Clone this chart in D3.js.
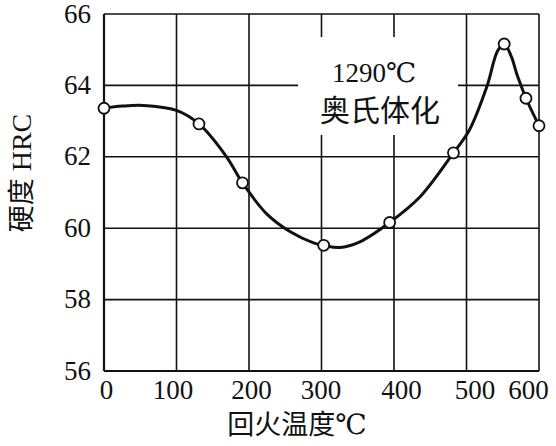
<!DOCTYPE html>
<html><head><meta charset="utf-8">
<script src="https://cdn.jsdelivr.net/npm/d3@7"></script>
<style>body{margin:0;background:#fff}svg{display:block}</style>
</head><body>
<svg id="c" width="556" height="446"></svg>
<script>
// Measured points (tempering temperature, hardness)
const tempPts = [0, 131, 191, 303, 394, 482, 552, 582, 600];
const hrcPts  = [63.36, 62.92, 61.27, 59.52, 60.16, 62.11, 65.16, 63.64, 62.87];
// Traced smooth curve through the points
const curveTemp = [0, 25, 54, 100, 131, 169, 191, 224, 257, 289, 303, 325, 353, 394, 436, 482, 504, 528, 543, 552, 562, 569, 574, 582, 600];
const curveHRC  = [63.36, 63.42, 63.44, 63.3, 62.92, 62.0, 61.27, 60.41, 59.9, 59.59, 59.52, 59.46, 59.62, 60.16, 60.88, 62.11, 62.75, 63.96, 64.97, 65.16, 64.8, 64.34, 64.06, 63.64, 62.87];
const xTicks = [0, 100, 200, 300, 400, 500, 600];
const yTicks = [56, 58, 60, 62, 64, 66];
const xTitle = ["回火温度", "℃"];
const yTitle = ["硬度", " HRC"];
const noteLines = ["1290℃", "奥氏体化"];

const svg = d3.select("#c");
const L = 104, R = 539, T = 14, B = 371;
const x = d3.scaleLinear().domain([0, 600]).range([L, R]);
const y = d3.scaleLinear().domain([56, 66]).range([B, T]);
const serif = "'Liberation Serif','DejaVu Serif','Times New Roman',serif";
const cjk = "'Noto Sans CJK SC','Liberation Serif',serif";

// grid
const g = svg.append("g");
g.selectAll("line.v").data(xTicks).join("line")
  .attr("x1", d => x(d)).attr("x2", d => x(d)).attr("y1", T).attr("y2", B)
  .attr("stroke", "#111").attr("stroke-width", 1.6);
g.selectAll("line.h").data(yTicks).join("line")
  .attr("x1", L).attr("x2", R).attr("y1", d => y(d)).attr("y2", d => y(d))
  .attr("stroke", "#111").attr("stroke-width", 1.6);
g.append("line").attr("x1", L).attr("x2", L).attr("y1", T).attr("y2", B).attr("stroke", "#111").attr("stroke-width", 2.2);
g.append("line").attr("x1", L).attr("x2", R).attr("y1", B).attr("y2", B).attr("stroke", "#111").attr("stroke-width", 2.2);

// annotation background (hides grid)
svg.append("rect").attr("x", 298).attr("y", 37).attr("width", 160).attr("height", 98).attr("fill", "#fff");
svg.append("text").attr("x", 374).attr("y", 82).attr("text-anchor", "middle")
  .attr("font-family", serif).attr("font-size", 27).attr("fill", "#111").text(noteLines[0]);
svg.append("text").attr("x", 380).attr("y", 121).attr("text-anchor", "middle")
  .attr("font-family", cjk).attr("font-size", 30).attr("fill", "#111").text(noteLines[1]);

// curve
const line = d3.line().x(d => x(d[0])).y(d => y(d[1])).curve(d3.curveCatmullRom.alpha(0.5));
svg.append("path").datum(d3.zip(curveTemp, curveHRC)).attr("d", line)
  .attr("fill", "none").attr("stroke", "#111").attr("stroke-width", 3);

// markers
svg.selectAll("circle").data(d3.zip(tempPts, hrcPts)).join("circle")
  .attr("cx", d => x(d[0])).attr("cy", d => y(d[1])).attr("r", 5.5)
  .attr("fill", "#fff").attr("stroke", "#111").attr("stroke-width", 1.8);

// axes tick labels
const xAxis = svg.append("g").attr("transform", `translate(0,${B})`)
  .call(d3.axisBottom(x).tickValues(xTicks).tickSize(0).tickPadding(9));
xAxis.select(".domain").remove();
const xdx = {0: 2, 100: -4, 200: 2, 300: -1, 400: 7, 500: 8, 600: -11};
xAxis.selectAll("text").attr("font-family", serif).attr("font-size", 27).attr("fill", "#111")
  .attr("dx", d => xdx[d]);
const yAxis = svg.append("g").attr("transform", `translate(${L},0)`)
  .call(d3.axisLeft(y).tickValues(yTicks).tickSize(0).tickPadding(13));
yAxis.select(".domain").remove();
yAxis.selectAll("text").attr("font-family", serif).attr("font-size", 27).attr("fill", "#111").attr("dy", "0.3em");

// titles
const xt = svg.append("text").attr("x", 297).attr("y", 434).attr("text-anchor", "middle").attr("fill", "#111");
xt.append("tspan").attr("font-family", cjk).attr("font-size", 27).text(xTitle[0]);
xt.append("tspan").attr("font-family", serif).attr("font-size", 28).text(xTitle[1]);
const yt = svg.append("text").attr("transform", "translate(31,173) rotate(-90)").attr("text-anchor", "middle").attr("fill", "#111");
yt.append("tspan").attr("font-family", cjk).attr("font-size", 27).text(yTitle[0]);
yt.append("tspan").attr("font-family", serif).attr("font-size", 28).text(yTitle[1]);
</script>
</body></html>
